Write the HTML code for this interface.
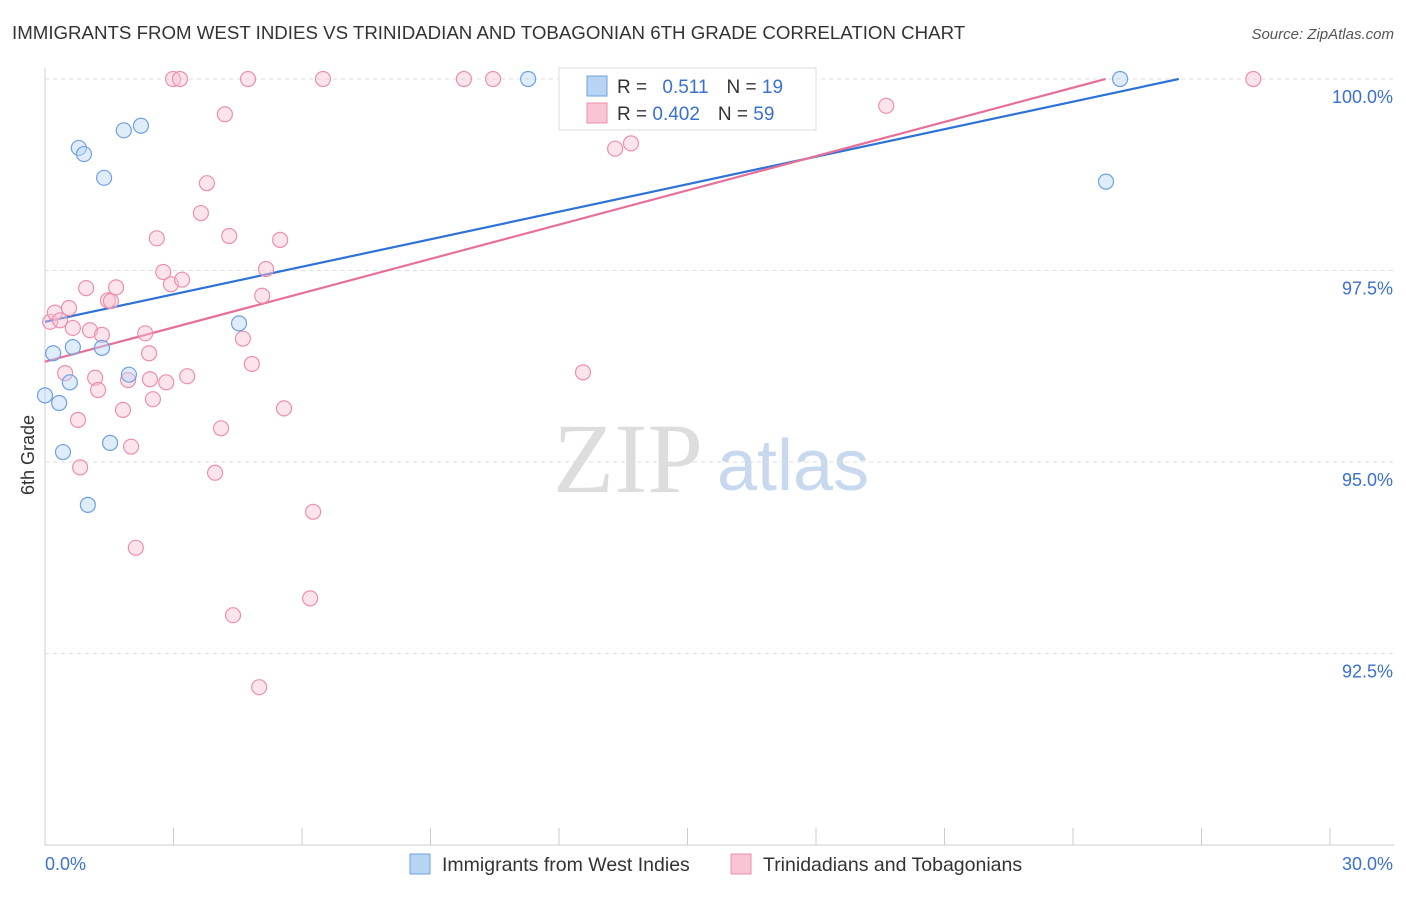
<!DOCTYPE html>
<html><head><meta charset="utf-8"><style>
body{margin:0;background:#fff;font-family:"Liberation Sans",sans-serif;}
svg text{font-family:"Liberation Sans",sans-serif;}
</style></head><body>
<svg id="c" width="1406" height="892">
<text x="12" y="39" font-size="18.7" fill="#333">IMMIGRANTS FROM WEST INDIES VS TRINIDADIAN AND TOBAGONIAN 6TH GRADE CORRELATION CHART</text>
<text x="1394" y="39" font-size="15" fill="#555" text-anchor="end" font-style="italic">Source: ZipAtlas.com</text>
<text x="553" y="492" font-size="100" fill="#ddd" style="font-family:'Liberation Serif',serif">ZIP</text>
<text x="717" y="490" font-size="72" fill="#c8d8ee">atlas</text>
<text transform="translate(34,455) rotate(-90)" font-size="18" fill="#333" text-anchor="middle">6th Grade</text>
<g id="grid"></g><g id="lines"></g><g id="pts"></g>
<g>
<rect x="559" y="68" width="257" height="62" fill="#fff" stroke="#ddd"/>
<rect x="587" y="76" width="20" height="20" fill="#b8d4f5" stroke="#6fa0e0"/>
<rect x="587" y="103" width="20" height="20" fill="#f9c4d4" stroke="#ec8fae"/>
<text x="617" y="93" font-size="19" fill="#333">R = <tspan fill="#3a70d0" dx="10">0.511</tspan><tspan fill="#333" dx="18">N = </tspan><tspan fill="#3a70d0">19</tspan></text>
<text x="617" y="120" font-size="19" fill="#333">R = <tspan fill="#3a70d0">0.402</tspan><tspan fill="#333" dx="18">N = </tspan><tspan fill="#3a70d0">59</tspan></text>
</g>
<g>
<rect x="410" y="854" width="20" height="20" fill="#b8d4f5" stroke="#6fa0e0"/>
<text x="442" y="871" font-size="19.5" fill="#333">Immigrants from West Indies</text>
<rect x="731" y="854" width="20" height="20" fill="#f9c4d4" stroke="#ec8fae"/>
<text x="763" y="871" font-size="19.5" fill="#333">Trinidadians and Tobagonians</text>
</g>
</svg>
<script>
const blueX=[0,0.19,0.33,0.42,0.58,0.65,0.79,0.91,1.00,1.33,1.38,1.52,1.84,1.96,2.24,4.53,11.28,24.77,25.10];
const blueY=[95.87,96.42,95.77,95.13,96.04,96.50,99.10,99.02,94.44,96.49,98.71,95.25,99.33,96.14,99.39,96.81,100,98.66,100];
const pinkX=[0.12,0.23,0.35,0.56,0.65,0.47,0.77,0.82,0.96,1.05,1.17,1.24,1.33,1.47,1.54,1.66,1.82,1.94,2.01,2.12,2.34,2.43,2.45,2.52,2.61,2.76,2.83,2.94,2.99,3.15,3.20,3.32,3.64,3.78,3.97,4.11,4.20,4.30,4.39,4.62,4.74,4.83,5.00,5.07,5.16,5.49,5.58,6.19,6.26,6.49,9.78,10.46,12.56,13.31,13.68,19.64,28.21];
const pinkY=[96.83,96.95,96.85,97.01,96.75,96.16,95.55,94.93,97.27,96.72,96.10,95.94,96.66,97.11,97.10,97.28,95.68,96.07,95.20,93.88,96.68,96.42,96.08,95.82,97.92,97.48,96.04,97.32,100,100,97.38,96.12,98.25,98.64,94.86,95.44,99.54,97.95,93.00,96.61,100,96.28,92.06,97.17,97.52,97.90,95.70,93.22,94.35,100,100,100,96.17,99.09,99.16,99.65,100];
const blueLine=[0,96.83,26.47,100];
const pinkLine=[0,96.31,24.76,100];
const yTicks=[100,97.5,95,92.5];
const yTickLabels=["100.0%","97.5%","95.0%","92.5%"];
const xTickVals=[0,3,6,9,12,15,18,21,24,27,30];
const NS="http://www.w3.org/2000/svg";
const sx=v=>45+v*(1285/30), sy=v=>79+(100-v)*76.6;
function mk(t,a,p){const e=document.createElementNS(NS,t);for(const k in a)e.setAttribute(k,a[k]);p.appendChild(e);return e;}
const g=document.getElementById('grid');
let ax=mk('line',{x1:45,y1:68,x2:45,y2:845,stroke:'#ccc'},g);


let bx=mk('line',{x1:45,y1:845,x2:1394,y2:845,stroke:'#ccc'},g);


yTicks.forEach((v,i)=>{
 const l=mk('line',{x1:45,y1:sy(v),x2:1394,y2:sy(v),stroke:'#ddd','stroke-dasharray':'4,4'},g);
 
 
 const t=mk('text',{x:1393,y:sy(v)+24,'font-size':18,fill:'#3a70d0','text-anchor':'end'},g);t.textContent=yTickLabels[i];
 
 
});
xTickVals.forEach(v=>{const l=mk('line',{x1:sx(v),y1:828,x2:sx(v),y2:845,stroke:'#ccc'},g);
 
 });
let t0=mk('text',{x:45,y:870,'font-size':18,fill:'#3a70d0'},g);t0.textContent='0.0%';


let t1=mk('text',{x:1393,y:870,'font-size':18,fill:'#3a70d0','text-anchor':'end'},g);t1.textContent='30.0%';


const P=document.getElementById('pts');
function pts(X,Y,fill,stroke,name){X.forEach((x,i)=>{const c=mk('circle',{cx:sx(x),cy:sy(Y[i]),r:7.5,fill:fill,'fill-opacity':0.45,stroke:stroke,'stroke-width':1.2},P);
 
 });}
pts(pinkX,pinkY,'#f9c4d4','#ec8fae','pink-point');
pts(blueX,blueY,'#b8d4f5','#6fa0e0','blue-point');
const L=document.getElementById('lines');
let bl=mk('line',{x1:sx(blueLine[0]),y1:sy(blueLine[1]),x2:sx(blueLine[2]),y2:sy(blueLine[3]),stroke:'#2f72d6','stroke-width':2.2},L);


let pl=mk('line',{x1:sx(pinkLine[0]),y1:sy(pinkLine[1]),x2:sx(pinkLine[2]),y2:sy(pinkLine[3]),stroke:'#e5709a','stroke-width':2.2},L);


</script>
</body></html>
